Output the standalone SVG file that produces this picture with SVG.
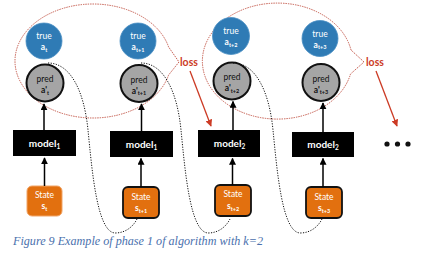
<svg xmlns="http://www.w3.org/2000/svg" width="437" height="256" viewBox="0 0 437 256">
  <style>
    text { font-family: "Lato", "Liberation Sans", sans-serif; text-anchor: middle; }
    .true-c { fill: #2f7bb5; stroke: #4a8fc4; stroke-width: 0.8; }
    .pred-c { fill: #a5a5a5; stroke: #111; stroke-width: 2; }
    .model { fill: #000; }
    .state { fill: #e2700f; }
    .st-dark { stroke: #111; stroke-width: 1.8; }
    .st-light { stroke: #f1a466; stroke-width: 1; }
    .wt { fill: #fff; }
    .bk { fill: #111; }
    .lbl { font-size: 8.5px; }
    .var { font-size: 8.5px; font-weight: bold; }
    .sub { font-size: 5.5px; }
    .mtxt { font-size: 10px; font-weight: bold; fill: #fff; }
    .msub { font-size: 6.5px; }
    .bubble { fill: none; stroke: #c4584a; stroke-width: 1; stroke-dasharray: 1.4 1; }
    .loss { font-size: 10.5px; font-weight: bold; fill: #cc3b25; text-anchor: start; }
    .arrow { stroke: #000; stroke-width: 1.5; fill: none; marker-end: url(#head); }
    .red { stroke: #cc3b25; stroke-width: 1.3; fill: none; marker-end: url(#redhead); }
    .dots { stroke: #111; stroke-width: 1; fill: none; stroke-dasharray: 1.2 1.4; }
  </style>
  <defs>
    <marker id="head" viewBox="0 0 10 10" refX="9" refY="5" markerWidth="7" markerHeight="7" markerUnits="userSpaceOnUse" orient="auto">
      <path d="M0,0 L10,5 L0,10 Z" fill="#000"/>
    </marker>
    <marker id="redhead" viewBox="0 0 10 10" refX="9" refY="5" markerWidth="7" markerHeight="7" markerUnits="userSpaceOnUse" orient="auto">
      <path d="M0,0 L10,5 L0,10 Z" fill="#cc3b25"/>
    </marker>
  </defs>
  <rect width="437" height="256" fill="#fff"/>

  <!-- loss bubbles -->
  <g id="bubble-1">
    <path class="bubble" d="M168.6,47 A78,57 0 1 0 168.6,75 L179,62 Z"/>
    <text class="loss" x="180" y="66">loss</text>
  </g>
  <g id="bubble-2">
    <path class="bubble" d="M351,50 A75,58 0 1 0 350.5,74 L364,62 Z"/>
    <text class="loss" x="366" y="66">loss</text>
  </g>

  <!-- column t -->
  <g id="true-t">
    <circle class="true-c" cx="44" cy="41" r="18"/>
    <text class="wt lbl" x="44" y="39">true</text>
    <text class="wt var" x="44" y="50">a<tspan class="sub" dy="1.5">t</tspan></text>
  </g>
  <g id="pred-t">
    <circle class="pred-c" cx="45" cy="83" r="18.5"/>
    <text class="bk lbl" x="45" y="82">pred</text>
    <text class="bk var" x="45" y="93">a'<tspan class="sub" dy="1.5">t</tspan></text>
  </g>
  <g id="model-t">
    <rect class="model" x="13" y="130" width="63" height="26"/>
    <text class="mtxt" x="44.5" y="146.5">model<tspan class="msub" dy="2">1</tspan></text>
  </g>
  <g id="state-t">
    <rect class="state st-light" x="27" y="186" width="35" height="30" rx="5"/>
    <text class="wt lbl" x="44.5" y="198">State</text>
    <text class="wt var" x="44.5" y="209">s<tspan class="sub" dy="1.5">t</tspan></text>
  </g>

  <!-- column t+1 -->
  <g id="true-t1">
    <circle class="true-c" cx="138" cy="41" r="18"/>
    <text class="wt lbl" x="138" y="39">true</text>
    <text class="wt var" x="138" y="50">a<tspan class="sub" dy="1.5">t+1</tspan></text>
  </g>
  <g id="pred-t1">
    <circle class="pred-c" cx="139" cy="83.5" r="18.5"/>
    <text class="bk lbl" x="139" y="82.5">pred</text>
    <text class="bk var" x="139" y="93.5">a'<tspan class="sub" dy="1.5">t+1</tspan></text>
  </g>
  <g id="model-t1">
    <rect class="model" x="110" y="131" width="63" height="26"/>
    <text class="mtxt" x="141.5" y="147.5">model<tspan class="msub" dy="2">1</tspan></text>
  </g>
  <g id="state-t1">
    <rect class="state st-dark" x="123" y="187" width="36" height="31" rx="5"/>
    <text class="wt lbl" x="141" y="200">State</text>
    <text class="wt var" x="141" y="211">s<tspan class="sub" dy="1.5">t+1</tspan></text>
  </g>

  <!-- column t+2 -->
  <g id="true-t2">
    <circle class="true-c" cx="231" cy="36" r="18.5"/>
    <text class="wt lbl" x="231" y="34">true</text>
    <text class="wt var" x="231" y="45">a<tspan class="sub" dy="1.5">t+2</tspan></text>
  </g>
  <g id="pred-t2">
    <circle class="pred-c" cx="232" cy="81" r="18.5"/>
    <text class="bk lbl" x="232" y="80">pred</text>
    <text class="bk var" x="232" y="91">a'<tspan class="sub" dy="1.5">t+2</tspan></text>
  </g>
  <g id="model-t2">
    <rect class="model" x="198" y="130" width="62" height="27"/>
    <text class="mtxt" x="229.5" y="146.5">model<tspan class="msub" dy="2">2</tspan></text>
  </g>
  <g id="state-t2">
    <rect class="state st-dark" x="215" y="185" width="36" height="31" rx="5"/>
    <text class="wt lbl" x="233" y="197">State</text>
    <text class="wt var" x="233" y="209">s<tspan class="sub" dy="1.5">t+2</tspan></text>
  </g>

  <!-- column t+3 -->
  <g id="true-t3">
    <circle class="true-c" cx="320" cy="38.5" r="18"/>
    <text class="wt lbl" x="320" y="36.5">true</text>
    <text class="wt var" x="320" y="47.5">a<tspan class="sub" dy="1.5">t+3</tspan></text>
  </g>
  <g id="pred-t3">
    <circle class="pred-c" cx="321" cy="82.5" r="18.5"/>
    <text class="bk lbl" x="321" y="81.5">pred</text>
    <text class="bk var" x="321" y="92.5">a'<tspan class="sub" dy="1.5">t+3</tspan></text>
  </g>
  <g id="model-t3">
    <rect class="model" x="292" y="132" width="62" height="25"/>
    <text class="mtxt" x="323" y="147.5">model<tspan class="msub" dy="2">2</tspan></text>
  </g>
  <g id="state-t3">
    <rect class="state st-dark" x="306" y="187" width="36" height="31" rx="5"/>
    <text class="wt lbl" x="324" y="200">State</text>
    <text class="wt var" x="324" y="211">s<tspan class="sub" dy="1.5">t+3</tspan></text>
  </g>

  <g id="more">
    <circle cx="387" cy="144" r="2.6" fill="#111"/>
    <circle cx="397.5" cy="144" r="2.6" fill="#111"/>
    <circle cx="408" cy="144" r="2.6" fill="#111"/>
  </g>

  <!-- connectors -->
  <g id="connectors">
    <line class="arrow" x1="44.5" y1="186" x2="44.5" y2="158"/>
    <line class="arrow" x1="44" y1="130" x2="44" y2="104"/>
    <line class="arrow" x1="141" y1="187" x2="141" y2="158.5"/>
    <line class="arrow" x1="141.5" y1="131" x2="141.5" y2="104"/>
    <line class="arrow" x1="232.5" y1="185" x2="232.5" y2="158.5"/>
    <line class="arrow" x1="233" y1="130" x2="233" y2="101.5"/>
    <line class="arrow" x1="323" y1="187" x2="323" y2="158.5"/>
    <line class="arrow" x1="323" y1="132" x2="323" y2="103"/>

    <line class="red" x1="190" y1="71" x2="211" y2="126"/>
    <line class="red" x1="376" y1="71" x2="397" y2="126"/>

    <path class="dots" d="M48,63 C70,63 84,90 88,130 C92,170 97,232 115,233 C127,233 134,225 137,219"/>
    <path class="dots" transform="translate(93,0)" d="M48,63 C70,63 84,90 88,130 C92,170 97,232 115,233 C127,233 134,225 137,219"/>
    <path class="dots" transform="translate(185,0)" d="M48,63 C70,63 84,90 88,130 C92,170 97,232 115,233 C127,233 134,225 137,219"/>
  </g>

  <text x="13" y="245" textLength="250" lengthAdjust="spacingAndGlyphs" style="font-family: 'Liberation Serif', serif; font-style: italic; font-size: 12px; fill: #4a70ad; text-anchor: start;">Figure 9 Example of phase 1 of algorithm with k=2</text>
</svg>
